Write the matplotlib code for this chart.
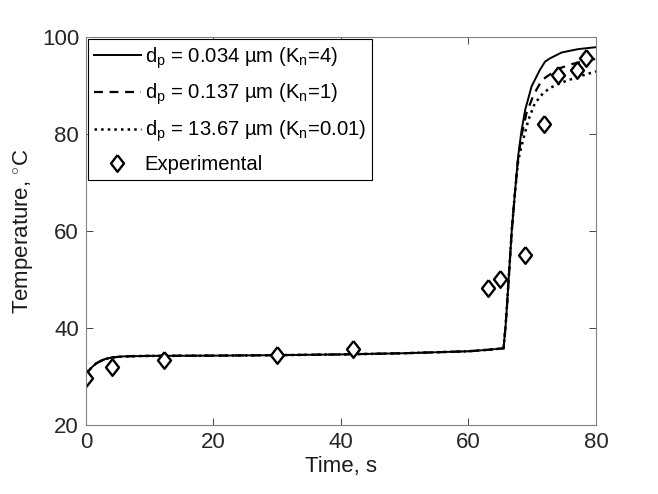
import matplotlib.pyplot as plt
import numpy as np

plt.rcParams['font.family'] = ['Liberation Sans', 'DejaVu Sans']
plt.rcParams['mathtext.fontset'] = 'custom'
plt.rcParams['mathtext.rm'] = 'Liberation Sans'
plt.rcParams['mathtext.it'] = 'Liberation Sans'

# common part of the three model curves (they overlap up to ~67 s)
t_common = [0, 0.5, 1, 1.5, 2, 3, 4, 5, 6, 8, 10, 20, 30, 40, 50, 60, 63, 65, 65.5,
            65.8, 66.0, 66.4, 66.8, 67.3]
T_common = [30.3, 31.3, 32.0, 32.6, 33.0, 33.6, 33.9, 34.05, 34.15, 34.2, 34.25, 34.3,
            34.4, 34.55, 34.8, 35.2, 35.5, 35.75, 35.8, 40.0, 43.7, 52.0, 60.2, 68.0]

# tails, Kn = 4
t_kn4 = [67.8, 68.3, 68.9, 69.9, 71.2, 72.0, 72.8, 74.6, 77.2, 80.0]
T_kn4 = [75.5, 80.5, 85.0, 89.8, 93.2, 94.9, 95.6, 96.8, 97.5, 97.9]
# Kn = 1
t_kn1 = [67.8, 68.3, 69.1, 70.2, 71.5, 72.8, 74.4, 76.2, 78.0, 80.0]
T_kn1 = [75.0, 79.5, 84.3, 88.0, 91.1, 92.3, 93.6, 94.4, 95.0, 95.5]
# Kn = 0.01
t_kn001 = [67.8, 68.3, 69.4, 70.4, 71.7, 72.8, 74.6, 77.2, 80.0]
T_kn001 = [74.5, 77.4, 82.9, 86.3, 88.4, 89.5, 90.6, 91.8, 92.9]

# experimental
t_exp = [0, 4.1, 12.2, 30.0, 41.9, 63.0, 64.9, 68.9, 71.8, 74.1, 77.0, 78.5]
T_exp = [29.7, 32.0, 33.4, 34.4, 35.7, 48.3, 50.2, 55.0, 82.0, 92.2, 93.1, 95.6]

labels = [r'd$_{\rm p}$ = 0.034 µm (K$_{\rm n}$=4)',
          r'd$_{\rm p}$ = 0.137 µm (K$_{\rm n}$=1)',
          r'd$_{\rm p}$ = 13.67 µm (K$_{\rm n}$=0.01)',
          'Experimental']

# matlab-like diamond (a bit taller than wide)
diamond = [(0, 1), (0.78, 0), (0, -1), (-0.78, 0), (0, 1)]

fig = plt.figure(figsize=(6.58, 4.94), dpi=100)
ax = fig.add_axes([0.1307, 0.1397, 0.775, 0.7854])

ax.plot(t_common + t_kn4, T_common + T_kn4, '-', color='k', lw=1.4, label=labels[0])
ax.plot(t_common + t_kn1, T_common + T_kn1, '--', color='k', lw=1.6,
        dashes=(4, 3), label=labels[1])
ax.plot(t_common + t_kn001, T_common + T_kn001, ':', color='k', lw=1.8, label=labels[2])
ax.plot(t_exp, T_exp, marker=diamond, mfc='white', mec='k', mew=1.7, ms=12, ls='none',
        label=labels[3])

ax.set_xlim(0, 80)
ax.set_ylim(20, 100)
ax.set_xticks(np.arange(0, 81, 20))
ax.set_yticks(np.arange(20, 101, 20))
ax.tick_params(direction='in', top=True, right=True, length=5, width=0.6,
               labelsize=16, colors='0.15', pad=5)
for s in ax.spines.values():
    s.set_color('0.5')
    s.set_linewidth(0.8)
ax.set_xlabel('Time, s', fontsize=16, color='0.1', labelpad=2)
ax.set_ylabel(r'Temperature, $^{\circ}$C', fontsize=16, color='0.1')

leg = ax.legend(loc='upper left', fontsize=14.6, fancybox=False, framealpha=1,
                edgecolor='k', borderaxespad=0.1, handlelength=2.3,
                handletextpad=0.2, labelspacing=0.55, borderpad=0.3)
leg.get_frame().set_linewidth(0.8)

fig.savefig('out.png', dpi=100)
